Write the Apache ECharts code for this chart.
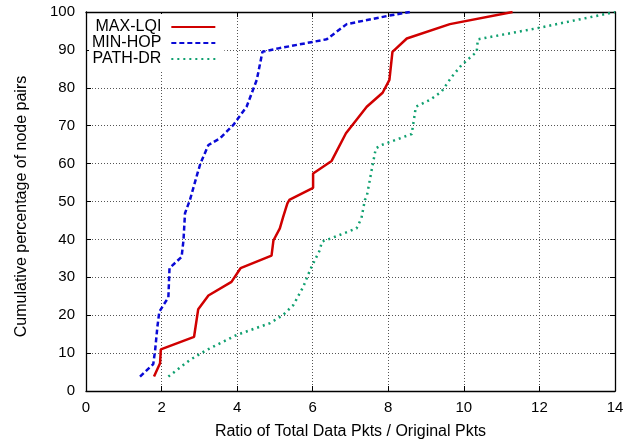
<!DOCTYPE html>
<html>
<head>
<meta charset="utf-8">
<script src="https://cdn.jsdelivr.net/npm/echarts@6/dist/echarts.min.js"></script>
<style>html,body{margin:0;padding:0;background:#fff;}#c{width:639px;height:443px;}</style>
</head>
<body>
<div id="c"></div>
<script>
var seriesNames = ['MAX-LQI', 'MIN-HOP', 'PATH-DR'];
var xTicks = [0, 2, 4, 6, 8, 10, 12, 14];
var yTicks = [0, 10, 20, 30, 40, 50, 60, 70, 80, 90, 100];

var maxLqiX = [1.80, 1.96, 1.98, 2.86, 2.97, 3.24, 3.85, 4.09, 4.91, 4.96, 5.13, 5.22, 5.33, 5.38, 6.01, 6.01, 6.50, 6.88, 7.43, 7.85, 8.03, 8.11, 8.49, 9.63, 11.29];
var maxLqiY = [3.8, 7.3, 11.0, 14.3, 21.6, 25.2, 28.8, 32.4, 35.7, 39.7, 42.9, 46.0, 49.5, 50.4, 53.6, 57.4, 60.7, 68.0, 75.0, 78.7, 82.1, 89.5, 93.0, 96.8, 100];

var minHopX = [1.43, 1.78, 1.83, 1.89, 1.94, 2.05, 2.18, 2.21, 2.53, 2.58, 2.62, 2.75, 2.95, 3.03, 3.24, 3.55, 3.90, 4.25, 4.52, 4.67, 5.09, 6.37, 6.90, 8.00, 8.57];
var minHopY = [3.8, 7.1, 10.8, 17.0, 20.9, 22.7, 24.7, 32.4, 35.4, 39.8, 46.9, 50.4, 57.4, 60.1, 64.9, 66.7, 70.2, 75.0, 82.1, 89.5, 90.4, 92.8, 96.8, 99.0, 100];

var pathDrX = [2.18, 2.75, 3.19, 3.99, 4.87, 5.22, 5.49, 5.75, 5.93, 6.06, 6.19, 6.24, 6.41, 7.16, 7.29, 7.38, 7.43, 7.56, 7.67, 7.82, 8.62, 8.73, 9.10, 9.41, 9.68, 9.94, 10.34, 10.37, 11.93, 14.0];
var pathDrY = [3.8, 8.2, 10.8, 14.8, 17.9, 20.1, 22.7, 27.5, 31.9, 34.6, 37.2, 39.4, 40.0, 42.9, 45.6, 50.4, 51.3, 58.3, 64.0, 64.9, 67.8, 75.0, 76.8, 79.0, 82.9, 86.0, 89.5, 92.8, 95.7, 100];

function zip(xs, ys) { return xs.map(function (x, i) { return [x, ys[i]]; }); }

var FONT = 'Liberation Sans';
var chart = echarts.init(document.getElementById('c'), null, {renderer: 'canvas'});

var split = {show: true, lineStyle: {color: '#555', width: 1, type: [1, 2]}};
var tick = {show: true, inside: true, length: 5, lineStyle: {color: '#000', width: 1}};
var aline = {show: true, onZero: false, lineStyle: {color: '#000', width: 1.3}};

chart.setOption({
  animation: false,
  backgroundColor: '#fff',
  textStyle: {fontFamily: FONT},
  grid: {left: 86, right: 24, top: 12, bottom: 52, containLabel: false, outerBoundsMode: 'none'},
  legend: {
    orient: 'vertical',
    align: 'right',
    left: 89, top: 14,
    padding: [5, 8, 3, 3],
    itemWidth: 44, itemHeight: 14, itemGap: 0,
    backgroundColor: '#fff',
    itemStyle: {opacity: 0, borderWidth: 0},
    textStyle: {fontFamily: FONT, fontSize: 16, color: '#000', padding: [0, 5, 0, 0]},
    data: seriesNames
  },
  xAxis: [{
    type: 'value', min: xTicks[0], max: xTicks[xTicks.length - 1], interval: 2,
    name: 'Ratio of Total Data Pkts / Original Pkts',
    nameLocation: 'middle', nameGap: 33,
    nameTextStyle: {fontFamily: FONT, fontSize: 16, color: '#000'},
    axisLine: aline, axisTick: tick, splitLine: split,
    axisLabel: {fontFamily: FONT, fontSize: 15, color: '#000', margin: 9}
  }, {
    type: 'value', position: 'top', min: xTicks[0], max: xTicks[xTicks.length - 1], interval: 2,
    axisLine: aline, axisTick: tick, splitLine: {show: false}, axisLabel: {show: false}
  }],
  yAxis: [{
    type: 'value', min: yTicks[0], max: yTicks[yTicks.length - 1], interval: 10,
    name: 'Cumulative percentage of node pairs',
    nameLocation: 'middle', nameGap: 56,
    nameTextStyle: {fontFamily: FONT, fontSize: 16, color: '#000', padding: [0, 10, 0, 0]},
    axisLine: aline, axisTick: tick, splitLine: split,
    axisLabel: {fontFamily: FONT, fontSize: 15, color: '#000', margin: 11}
  }, {
    type: 'value', position: 'right', min: yTicks[0], max: yTicks[yTicks.length - 1], interval: 10,
    axisLine: aline, axisTick: tick, splitLine: {show: false}, axisLabel: {show: false}
  }],
  series: [{
    name: seriesNames[0], type: 'line', symbol: 'none', data: zip(maxLqiX, maxLqiY),
    lineStyle: {color: '#d00000', width: 2.5, type: 'solid'}, itemStyle: {color: '#d00000'}
  }, {
    name: seriesNames[1], type: 'line', symbol: 'none', data: zip(minHopX, minHopY),
    lineStyle: {color: '#0a0ad6', width: 2.5, type: [5, 3]}, itemStyle: {color: '#0a0ad6'}
  }, {
    name: seriesNames[2], type: 'line', symbol: 'none', data: zip(pathDrX, pathDrY),
    lineStyle: {color: '#10a070', width: 2.5, type: [2, 4]}, itemStyle: {color: '#10a070'}
  }]
});
</script>
</body>
</html>
